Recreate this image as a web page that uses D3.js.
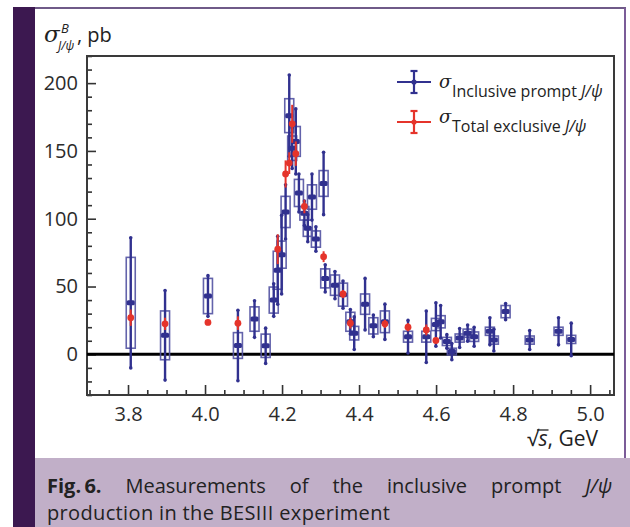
<!DOCTYPE html>
<html><head><meta charset="utf-8">
<script src="https://cdn.jsdelivr.net/npm/d3@7"></script>
<style>
body{margin:0;background:#fff}
svg{display:block;font-family:"Open Sans",sans-serif}
</style>
</head><body>
<svg id="c" width="630" height="527"></svg>
<script>
// ---- data: inclusive prompt J/psi (blue) ----
const blueEnergy = [3.8071,3.8962,4.0076,4.0854,4.1285,4.1574,4.1784,4.1888,4.1989,4.2092,4.2187,4.2263,4.2357,4.2438,4.2580,4.2668,4.2777,4.2879,4.3079,4.3121,4.3374,4.3583,4.3774,4.3874,4.4156,4.4371,4.4671,4.5271,4.5745,4.5995,4.6119,4.6280,4.6409,4.6612,4.6819,4.6988,4.7397,4.7500,4.7805,4.8431,4.9180,4.9509];
const blueValue  = [38,14,43,6.5,26,6.3,40,62,73.5,105,176,152,157,119,104,93,116,85,126,56,51,44,24,15.6,37,21,24,13,13,22,24,9.5,2,12,15.6,13,17,10.5,31.5,10.5,17,11];
const blueSys    = [33.5,18,13,9.5,9,8.6,9.6,14,10,11.5,12.5,9,11,10,5,6,9,6,9.5,7,7.5,8.5,7,5,7.5,6,8,4,4,4.5,4.5,3,2.5,3,3,3.5,3,3,4.5,3,3,3];
const blueStat   = [48,33,15,26,13.5,13,12,25,29,20,30,15,24,14,9,10,17,9,23,10,10,10,9,12,19,8,13,12,19,16,12,5,6,7,6,7,10,8,6,7,10,12];
// ---- data: total exclusive J/psi (red) ----
const redEnergy = [3.8071,3.8962,4.0076,4.0854,4.1888,4.2092,4.2187,4.2263,4.2357,4.2580,4.3079,4.3583,4.3774,4.4671,4.5271,4.5745,4.5995];
const redValue  = [27,22.5,23.5,23,77.5,133,141,170,148,109,72,44.5,23,22.5,20,18,10.2];
const redErr    = [6,4.5,2,5,11,10,8,14,9,5,4,3,4,3,3,4,2];
// ---- axes ----
const xTicks = [3.8,4.0,4.2,4.4,4.6,4.8,5.0];
const xTickLabels = ["3.8","4.0","4.2","4.4","4.6","4.8","5.0"];
const yTicks = [0,50,100,150,200];
const yTickLabels = ["0","50","100","150","200"];
const xDomain = [3.6935, 5.062];
const yDomain = [-30, 220];
const legendLabels = ["Inclusive prompt ", "Total exclusive "];

const svg = d3.select("#c");
const L = 87, R = 614, T = 56, B = 395;
const x = d3.scaleLinear().domain(xDomain).range([L, R]);
const y = d3.scaleLinear().domain(yDomain).range([B, T]);

// page decoration
svg.append("rect").attr("x",13).attr("y",7).attr("width",22).attr("height",520).attr("fill","#3c1850");
svg.append("line").attr("x1",35).attr("x2",626).attr("y1",8).attr("y2",8).attr("stroke","#6f5a88").attr("stroke-width",2);
svg.append("line").attr("x1",625).attr("x2",625).attr("y1",8).attr("y2",458).attr("stroke","#7b5c98").attr("stroke-width",2);
svg.append("rect").attr("x",35).attr("y",458).attr("width",595).attr("height",69).attr("fill","#c1afc8");

// axes
const tickColor = "#333";
function styleAxis(g){
  g.select(".domain").remove();
  g.selectAll(".tick line").attr("stroke",tickColor).attr("stroke-width",1.6);
  g.selectAll(".tick text").attr("fill","#2b2b2b").attr("font-size",20).attr("font-family","Open Sans");
}
const yMinor = d3.range(-30, 221, 10).filter(v => !yTicks.includes(v));
svg.append("g").attr("transform",`translate(${L},0)`)
  .call(d3.axisLeft(y).tickValues(yMinor).tickSize(-5).tickSizeOuter(0).tickFormat(""))
  .call(styleAxis);
svg.append("g").attr("transform",`translate(${L},0)`)
  .call(d3.axisLeft(y).tickValues(yTicks).tickSize(-9).tickSizeOuter(0).tickPadding(9)
    .tickFormat((d,i)=>yTickLabels[i]))
  .call(styleAxis);
const xMinor = d3.range(74, 102).map(i => +(i*0.05).toFixed(2)).filter(v => !xTicks.some(t => Math.abs(t-v)<1e-6));
svg.append("g").attr("transform",`translate(0,${B})`)
  .call(d3.axisBottom(x).tickValues(xMinor).tickSize(-5).tickSizeOuter(0).tickFormat(""))
  .call(styleAxis);
svg.append("g").attr("transform",`translate(0,${B})`)
  .call(d3.axisBottom(x).tickValues(xTicks).tickSize(-10).tickSizeOuter(0).tickPadding(12)
    .tickFormat((d,i)=>xTickLabels[i]))
  .call(styleAxis);

// frame
svg.append("rect").attr("x",L).attr("y",T).attr("width",R-L).attr("height",B-T)
  .attr("fill","none").attr("stroke","#3a3a3a").attr("stroke-width",2);

// zero line
svg.append("line").attr("x1",L).attr("x2",R).attr("y1",y(0)).attr("y2",y(0))
  .attr("stroke","#000").attr("stroke-width",3);

// blue data
const blue = blueEnergy.map((e,i)=>({e, v:blueValue[i], s:blueSys[i], st:blueStat[i]}));
const red = redEnergy.map((e,i)=>({e, v:redValue[i], er:redErr[i]}));
const BLUE = "#31318f", BOX = "#5252a2", RED = "#e5342b";
const bw = 9;
const gB = svg.append("g");
gB.selectAll("rect.sys").data(blue).enter().append("rect")
  .attr("x",d=>x(d.e)-bw/2).attr("width",bw)
  .attr("y",d=>y(d.v+d.s)).attr("height",d=>y(d.v-d.s)-y(d.v+d.s))
  .attr("fill","none").attr("stroke",BOX).attr("stroke-width",1.6).attr("opacity",0.9);
gB.selectAll("line.stat").data(blue).enter().append("line")
  .attr("x1",d=>x(d.e)).attr("x2",d=>x(d.e))
  .attr("y1",d=>y(d.v+d.st)).attr("y2",d=>y(d.v-d.st))
  .attr("stroke",BLUE).attr("stroke-width",2.4);
gB.selectAll("circle.cap1").data(blue).enter().append("circle")
  .attr("cx",d=>x(d.e)).attr("cy",d=>y(d.v+d.st)).attr("r",1.8).attr("fill",BLUE);
gB.selectAll("circle.cap2").data(blue).enter().append("circle")
  .attr("cx",d=>x(d.e)).attr("cy",d=>y(d.v-d.st)).attr("r",1.8).attr("fill",BLUE);

// red data
const gR = svg.append("g");
gR.selectAll("line").data(red).enter().append("line")
  .attr("x1",d=>x(d.e)).attr("x2",d=>x(d.e))
  .attr("y1",d=>y(d.v+d.er)).attr("y2",d=>y(d.v-d.er))
  .attr("stroke",RED).attr("stroke-width",2);
gR.selectAll("circle").data(red).enter().append("circle")
  .attr("cx",d=>x(d.e)).attr("cy",d=>y(d.v)).attr("r",3.4).attr("fill",RED);

// blue markers on top
gB.selectAll("rect.mk").data(blue).enter().append("rect")
  .attr("x",d=>x(d.e)-4).attr("y",d=>y(d.v)-2.5).attr("width",8).attr("height",5)
  .attr("rx",1.5).attr("fill",BLUE);

// legend
function legendMarker(cx, cy, col){
  const g = svg.append("g").attr("stroke",col).attr("stroke-width",2.2);
  g.append("line").attr("x1",cx).attr("x2",cx).attr("y1",cy-11).attr("y2",cy+11);
  g.append("line").attr("x1",cx-3.5).attr("x2",cx+3.5).attr("y1",cy-11).attr("y2",cy-11);
  g.append("line").attr("x1",cx-3.5).attr("x2",cx+3.5).attr("y1",cy+11).attr("y2",cy+11);
  g.append("line").attr("x1",cx-17).attr("x2",cx+17).attr("y1",cy).attr("y2",cy);
  svg.append("circle").attr("cx",cx).attr("cy",cy).attr("r",2.6).attr("fill",col);
}
legendMarker(414, 82, BLUE);
legendMarker(414, 122, RED);
[[97,legendLabels[0]],[132,legendLabels[1]]].forEach(([by,lab])=>{
  svg.append("text").attr("x",439).attr("y",by-9).attr("font-size",18).attr("fill","#222")
    .attr("font-family","DejaVu Serif").attr("font-style","italic").text("σ");
  const t = svg.append("text").attr("x",452).attr("y",by).attr("font-size",16).attr("fill","#222");
  t.append("tspan").text(lab);
  t.append("tspan").attr("font-style","italic").text("J/ψ");
});

// y title
svg.append("text").attr("x",44).attr("y",42).attr("font-size",23).attr("fill","#222")
  .attr("font-family","DejaVu Serif").attr("font-style","italic").text("σ");
svg.append("text").attr("x",61).attr("y",33).attr("font-size",13).attr("fill","#222")
  .attr("font-style","italic").text("B");
svg.append("text").attr("x",58).attr("y",50).attr("font-size",12).attr("fill","#222")
  .attr("font-style","italic").text("J/ψ");
svg.append("text").attr("x",77).attr("y",42).attr("font-size",20).attr("fill","#222").text(", pb");

// x title
const xt = svg.append("text").attr("x",598).attr("y",446).attr("font-size",21).attr("fill","#222")
  .attr("text-anchor","end");
xt.append("tspan").text("√");
xt.append("tspan").attr("font-style","italic").text("s");
xt.append("tspan").text(", GeV");
{
  const node = xt.node();
  const en = node.getEndPositionOfChar(1);
  const st0 = node.getStartPositionOfChar(0);
  svg.append("line").attr("x1",st0.x+10).attr("x2",en.x+1).attr("y1",430).attr("y2",430)
    .attr("stroke","#222").attr("stroke-width",1.3);
}

// caption: line 1 justified word by word
const capWords = [
  {t:"Fig.\u20096.", w:"bold"}, {t:"Measurements"}, {t:"of"}, {t:"the"},
  {t:"inclusive"}, {t:"prompt"}, {t:"J/ψ", i:true}
];
{
  const els = capWords.map(d => svg.append("text").attr("y",492.5).attr("font-size",20)
    .attr("fill","#222").attr("font-weight",d.w||"normal")
    .attr("font-style",d.i?"italic":"normal").text(d.t));
  const widths = els.map(e => e.node().getComputedTextLength());
  const total = widths.reduce((a,b)=>a+b,0);
  const gap = (565 - total) / (els.length - 1);
  let cx = 47;
  els.forEach((e,i)=>{ e.attr("x",cx); cx += widths[i] + gap; });
}
svg.append("text").attr("x",47).attr("y",520).attr("font-size",20).attr("letter-spacing",0.35)
  .attr("fill","#222").text("production in the BESIII experiment");
</script>
</body></html>
